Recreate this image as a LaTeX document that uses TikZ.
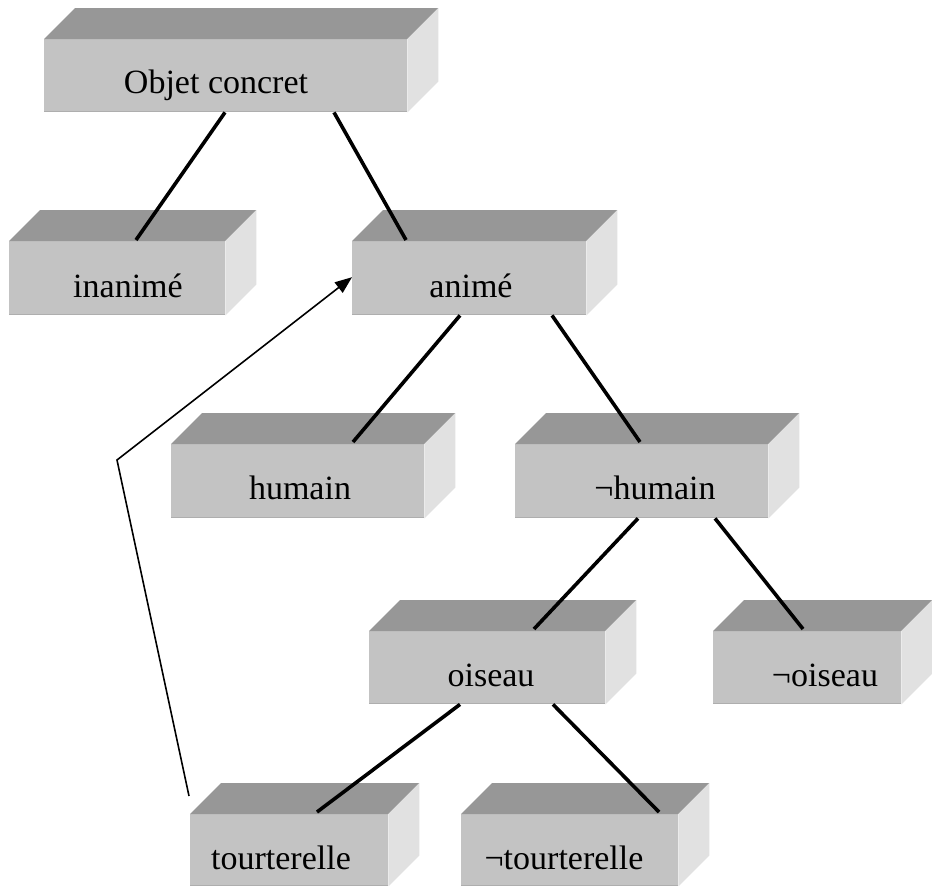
\documentclass[tikz,border=0pt]{standalone}
\usepackage{fontspec}
\setmainfont{Liberation Serif}
\usetikzlibrary{arrows.meta}

\definecolor{frontgray}{HTML}{C3C3C3}
\definecolor{topgray}{HTML}{979797}
\definecolor{sidegray}{HTML}{E1E1E1}
\definecolor{edgegray}{HTML}{AEAEAE}

\tikzset{
  box/.style={fill=frontgray, draw=none, inner sep=0pt, anchor=north west},
  lbl/.style={anchor=base, inner sep=0pt, font=\fontsize{34}{40}\selectfont},
  edge/.style={line width=3.6pt, black},
  refarrow/.style={line width=1.6pt, black, -{Triangle[length=17pt,width=13pt]}},
  topface/.style={fill=topgray},
  sideface/.style={fill=sidegray},
}

% three-dimensional look: top and right faces behind the front face
\newcommand{\cubefaces}[1]{%
  \fill[topface] (#1.north west) -- ++(31,-31) -- ([shift={(31,-31)}]#1.north east) -- (#1.north east) -- cycle;
  \fill[sideface] (#1.north east) -- ++(31,-31) -- ([shift={(31,-31)}]#1.south east) -- (#1.south east) -- cycle;
  \draw[edgegray, line width=1pt] ([yshift=0.5pt]#1.south west) -- ([yshift=0.5pt]#1.south east);
}

\begin{document}
\begin{tikzpicture}[x=1pt, y=-1pt]
\useasboundingbox (0,0) rectangle (932,886);

% front faces
\node[box, minimum width=363pt, minimum height=73pt] (objet) at (44,39) {};
\node[box, minimum width=216pt, minimum height=74pt] (inanime) at (9,241) {};
\node[box, minimum width=234pt, minimum height=74pt] (anime) at (352,241) {};
\node[box, minimum width=253pt, minimum height=74pt] (humain) at (171,444) {};
\node[box, minimum width=253pt, minimum height=74pt] (nonhumain) at (515,444) {};
\node[box, minimum width=236pt, minimum height=73pt] (oiseau) at (369,631) {};
\node[box, minimum width=188pt, minimum height=73pt] (nonoiseau) at (713,631) {};
\node[box, minimum width=198pt, minimum height=72pt] (tourterelle) at (190,814) {};
\node[box, minimum width=217pt, minimum height=72pt] (nontourterelle) at (461,814) {};

\foreach \n in {objet,inanime,anime,humain,nonhumain,oiseau,nonoiseau,tourterelle,nontourterelle}{
  \cubefaces{\n}
}

% labels
\node[lbl] (tobjet) at (216,93) {Objet concret};
\node[lbl] (tinanime) at (128,297) {inanimé};
\node[lbl] (tanime) at (471,297) {animé};
\node[lbl] (thumain) at (300,499) {humain};
\node[lbl] (tnonhumain) at (655,499) {¬humain};
\node[lbl] (toiseau) at (491,686) {oiseau};
\node[lbl] (tnonoiseau) at (825,686) {¬oiseau};
\node[lbl] (ttourterelle) at (281,869) {tourterelle};
\node[lbl] (tnontourterelle) at (564,869) {¬tourterelle};

% hierarchy links
\draw[edge] ([xshift=181pt]objet.south west) -- ([xshift=127pt,yshift=1pt]inanime.north west);
\draw[edge] ([xshift=290pt]objet.south west) -- ([xshift=54pt,yshift=1pt]anime.north west);
\draw[edge] ([xshift=108pt]anime.south west) -- ([xshift=182pt,yshift=2pt]humain.north west);
\draw[edge] ([xshift=200pt]anime.south west) -- ([xshift=125pt,yshift=2pt]nonhumain.north west);
\draw[edge] ([xshift=123pt]nonhumain.south west) -- ([xshift=165pt,yshift=2pt]oiseau.north west);
\draw[edge] ([xshift=200pt]nonhumain.south west) -- ([xshift=90pt,yshift=2pt]nonoiseau.north west);
\draw[edge] ([xshift=91pt]oiseau.south west) -- ([xshift=127pt,yshift=2pt]tourterelle.north west);
\draw[edge] ([xshift=184pt]oiseau.south west) -- ([xshift=198pt,yshift=2pt]nontourterelle.north west);

% reference arrow from tourterelle back to animé
\coordinate (tail) at (189,796);
\coordinate (bend) at (117,460);
\draw[refarrow] (tail) -- (bend) -- ([yshift=1pt]anime.west);
\end{tikzpicture}
\end{document}
